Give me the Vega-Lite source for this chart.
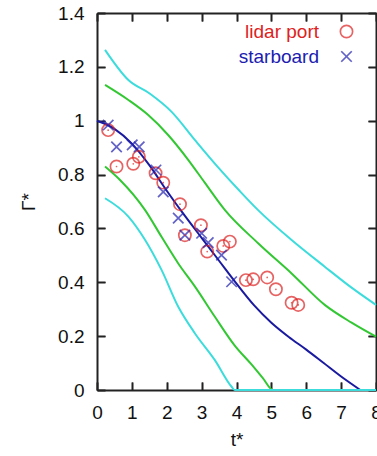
{
  "$schema": "https://vega.github.io/schema/vega-lite/v6.json",
  "width": 279,
  "height": 377,
  "autosize": "none",
  "padding": {"left": 97, "top": 13, "right": 4, "bottom": 66},
  "config": {
    "view": {"stroke": null}
  },
  "datasets": {
    "curves": [
      {"curve": "cyan_up", "t": 0.23, "g": 1.263},
      {"curve": "cyan_up", "t": 0.9, "g": 1.151},
      {"curve": "cyan_up", "t": 1.52, "g": 1.1},
      {"curve": "cyan_up", "t": 2.14, "g": 1.033},
      {"curve": "cyan_up", "t": 2.81, "g": 0.928},
      {"curve": "cyan_up", "t": 3.48, "g": 0.826},
      {"curve": "cyan_up", "t": 4.1, "g": 0.738},
      {"curve": "cyan_up", "t": 4.62, "g": 0.668},
      {"curve": "cyan_up", "t": 5.58, "g": 0.557},
      {"curve": "cyan_up", "t": 6.53, "g": 0.458},
      {"curve": "cyan_up", "t": 7.3, "g": 0.38},
      {"curve": "cyan_up", "t": 8.0, "g": 0.316},
      {"curve": "green_up", "t": 0.23, "g": 1.133},
      {"curve": "green_up", "t": 0.9, "g": 1.077},
      {"curve": "green_up", "t": 1.47, "g": 1.021},
      {"curve": "green_up", "t": 2.04, "g": 0.947},
      {"curve": "green_up", "t": 2.62, "g": 0.854},
      {"curve": "green_up", "t": 3.09, "g": 0.77},
      {"curve": "green_up", "t": 3.67, "g": 0.668},
      {"curve": "green_up", "t": 4.62, "g": 0.545},
      {"curve": "green_up", "t": 5.58, "g": 0.433},
      {"curve": "green_up", "t": 6.53, "g": 0.316},
      {"curve": "green_up", "t": 7.3, "g": 0.25},
      {"curve": "green_up", "t": 8.0, "g": 0.198},
      {"curve": "model", "t": 0.0, "g": 1.0},
      {"curve": "model", "t": 0.5, "g": 0.97},
      {"curve": "model", "t": 1.0, "g": 0.915},
      {"curve": "model", "t": 1.5, "g": 0.835},
      {"curve": "model", "t": 2.0, "g": 0.74},
      {"curve": "model", "t": 2.5, "g": 0.65},
      {"curve": "model", "t": 3.0, "g": 0.565},
      {"curve": "model", "t": 3.5, "g": 0.48},
      {"curve": "model", "t": 4.0, "g": 0.395},
      {"curve": "model", "t": 4.5, "g": 0.315},
      {"curve": "model", "t": 5.0, "g": 0.25},
      {"curve": "model", "t": 5.5, "g": 0.197},
      {"curve": "model", "t": 6.0, "g": 0.15},
      {"curve": "model", "t": 6.5, "g": 0.1},
      {"curve": "model", "t": 7.0, "g": 0.05},
      {"curve": "model", "t": 7.55, "g": 0.0},
      {"curve": "green_lo", "t": 0.23, "g": 0.83},
      {"curve": "green_lo", "t": 0.66, "g": 0.78},
      {"curve": "green_lo", "t": 1.38, "g": 0.668},
      {"curve": "green_lo", "t": 1.85, "g": 0.569},
      {"curve": "green_lo", "t": 2.33, "g": 0.47},
      {"curve": "green_lo", "t": 2.81, "g": 0.384},
      {"curve": "green_lo", "t": 3.38, "g": 0.272},
      {"curve": "green_lo", "t": 3.95, "g": 0.165},
      {"curve": "green_lo", "t": 4.43, "g": 0.095},
      {"curve": "green_lo", "t": 4.75, "g": 0.045},
      {"curve": "green_lo", "t": 5.05, "g": 0.0},
      {"curve": "green_lo", "t": 8.0, "g": 0.0},
      {"curve": "cyan_lo", "t": 0.23, "g": 0.712},
      {"curve": "cyan_lo", "t": 0.9, "g": 0.644},
      {"curve": "cyan_lo", "t": 1.38, "g": 0.557},
      {"curve": "cyan_lo", "t": 1.85, "g": 0.446},
      {"curve": "cyan_lo", "t": 2.33, "g": 0.309},
      {"curve": "cyan_lo", "t": 2.81, "g": 0.21},
      {"curve": "cyan_lo", "t": 3.38, "g": 0.111},
      {"curve": "cyan_lo", "t": 3.86, "g": 0.012},
      {"curve": "cyan_lo", "t": 3.95, "g": 0.0},
      {"curve": "cyan_lo", "t": 8.0, "g": 0.0}
    ],
    "points": [
      {"series": "lidar port", "t": 0.32, "g": 0.965},
      {"series": "lidar port", "t": 0.56, "g": 0.83},
      {"series": "lidar port", "t": 1.04, "g": 0.84},
      {"series": "lidar port", "t": 1.2, "g": 0.866},
      {"series": "lidar port", "t": 1.68, "g": 0.805},
      {"series": "lidar port", "t": 1.9, "g": 0.77},
      {"series": "lidar port", "t": 2.38, "g": 0.69},
      {"series": "lidar port", "t": 2.52, "g": 0.575},
      {"series": "lidar port", "t": 2.98, "g": 0.612},
      {"series": "lidar port", "t": 3.16, "g": 0.514},
      {"series": "lidar port", "t": 3.62, "g": 0.535},
      {"series": "lidar port", "t": 3.81, "g": 0.551},
      {"series": "lidar port", "t": 4.27, "g": 0.408},
      {"series": "lidar port", "t": 4.48, "g": 0.411},
      {"series": "lidar port", "t": 4.88, "g": 0.418},
      {"series": "lidar port", "t": 5.13, "g": 0.374},
      {"series": "lidar port", "t": 5.58, "g": 0.324},
      {"series": "lidar port", "t": 5.77, "g": 0.316},
      {"series": "starboard", "t": 0.32, "g": 0.984},
      {"series": "starboard", "t": 0.56, "g": 0.903},
      {"series": "starboard", "t": 1.01, "g": 0.91},
      {"series": "starboard", "t": 1.21, "g": 0.903},
      {"series": "starboard", "t": 1.69, "g": 0.817},
      {"series": "starboard", "t": 1.9, "g": 0.736},
      {"series": "starboard", "t": 2.33, "g": 0.638},
      {"series": "starboard", "t": 2.52, "g": 0.575},
      {"series": "starboard", "t": 3.0, "g": 0.582},
      {"series": "starboard", "t": 3.19, "g": 0.547},
      {"series": "starboard", "t": 3.57, "g": 0.501},
      {"series": "starboard", "t": 3.86, "g": 0.402}
    ]
  },
  "resolve": {"axis": {"x": "independent", "y": "independent"}},
  "layer": [
    {
      "data": {"name": "curves"},
      "mark": {"type": "line", "strokeWidth": 2, "interpolate": "monotone"},
      "encoding": {
        "x": {"field": "t", "type": "quantitative", "scale": {"domain": [0, 8], "nice": false},
              "axis": {"orient": "bottom", "values": [0,1,2,3,4,5,6,7,8], "grid": true, "gridColor": "#222222", "gridWidth": 1.6, "gridDash": [8, 1000], "labelFlush": false, "domainColor": "#222222", "domainWidth": 2, "tickColor": "#222222", "tickWidth": 1.6, "tickSize": -8, "labelPadding": 21, "labelFontSize": 19, "labelColor": "#111111", "labelFont": "Liberation Sans", "title": "t*", "titleFont": "Liberation Sans", "titleFontSize": 19, "titleFontWeight": "normal", "titleColor": "#111111", "titlePadding": 8}},
        "y": {"field": "g", "type": "quantitative", "scale": {"domain": [0, 1.4], "nice": false},
              "axis": {"orient": "left", "values": [0,0.2,0.4,0.6,0.8,1,1.2,1.4], "format": "~g", "grid": true, "gridColor": "#222222", "gridWidth": 1.6, "gridDash": [8, 1000], "labelFlush": false, "domainColor": "#222222", "domainWidth": 2, "tickColor": "#222222", "tickWidth": 1.6, "tickSize": -8, "labelPadding": 21, "labelFontSize": 19, "labelColor": "#111111", "labelFont": "Liberation Sans", "title": "Γ*", "titleFont": "Liberation Sans", "titleFontSize": 19, "titleFontWeight": "normal", "titleColor": "#111111", "titlePadding": 19}},
        "stroke": {"field": "curve", "type": "nominal",
                   "scale": {"domain": ["cyan_up", "green_up", "model", "green_lo", "cyan_lo"], "range": ["#3ddcdc", "#33c833", "#1a1aa0", "#33c833", "#3ddcdc"]},
                   "legend": null}
      }
    },
    {
      "data": {"name": "points"},
      "mark": {"type": "point", "filled": false, "strokeWidth": 1.7},
      "encoding": {
        "x": {"field": "t", "type": "quantitative",
              "axis": {"orient": "top", "values": [0,1,2,3,4,5,6,7,8], "grid": true, "gridColor": "#222222", "gridWidth": 1.6, "gridDash": [8, 1000], "domainColor": "#222222", "domainWidth": 2, "tickColor": "#222222", "tickWidth": 1.6, "tickSize": -8, "labels": false, "title": null}},
        "y": {"field": "g", "type": "quantitative",
              "axis": {"orient": "right", "values": [0,0.2,0.4,0.6,0.8,1,1.2,1.4], "grid": true, "gridColor": "#222222", "gridWidth": 1.6, "gridDash": [8, 1000], "domainColor": "#222222", "domainWidth": 2, "tickColor": "#222222", "tickWidth": 1.6, "tickSize": -8, "labels": false, "title": null}},
        "color": {"field": "series", "type": "nominal",
                  "scale": {"domain": ["lidar port", "starboard"], "range": ["#dd2222", "#2020b0"]},
                  "legend": {"title": null, "orient": "none", "legendX": 240, "legendY": 9, "labelAlign": "right", "labelOffset": -37, "labelFontSize": 19, "labelFont": "Liberation Sans", "symbolSize": 144, "symbolStrokeWidth": 1.7, "rowPadding": 5,
                             "labelColor": {"expr": "datum.label === 'lidar port' ? '#dd2222' : '#2020b0'"}}},
        "shape": {"field": "series", "type": "nominal",
                  "scale": {"domain": ["lidar port", "starboard"], "range": ["circle", "M-1,-1L1,1M-1,1L1,-1"]}},
        "size": {"field": "series", "type": "nominal", "scale": {"domain": ["lidar port", "starboard"], "range": [150, 110]}, "legend": null}
      }
    },
    {
      "data": {"name": "points"},
      "transform": [{"filter": "datum.series === 'lidar port'"}],
      "mark": {"type": "point", "filled": true, "size": 3, "color": "#dd2222"},
      "encoding": {
        "x": {"field": "t", "type": "quantitative", "axis": null},
        "y": {"field": "g", "type": "quantitative", "axis": null}
      }
    }
  ]
}
